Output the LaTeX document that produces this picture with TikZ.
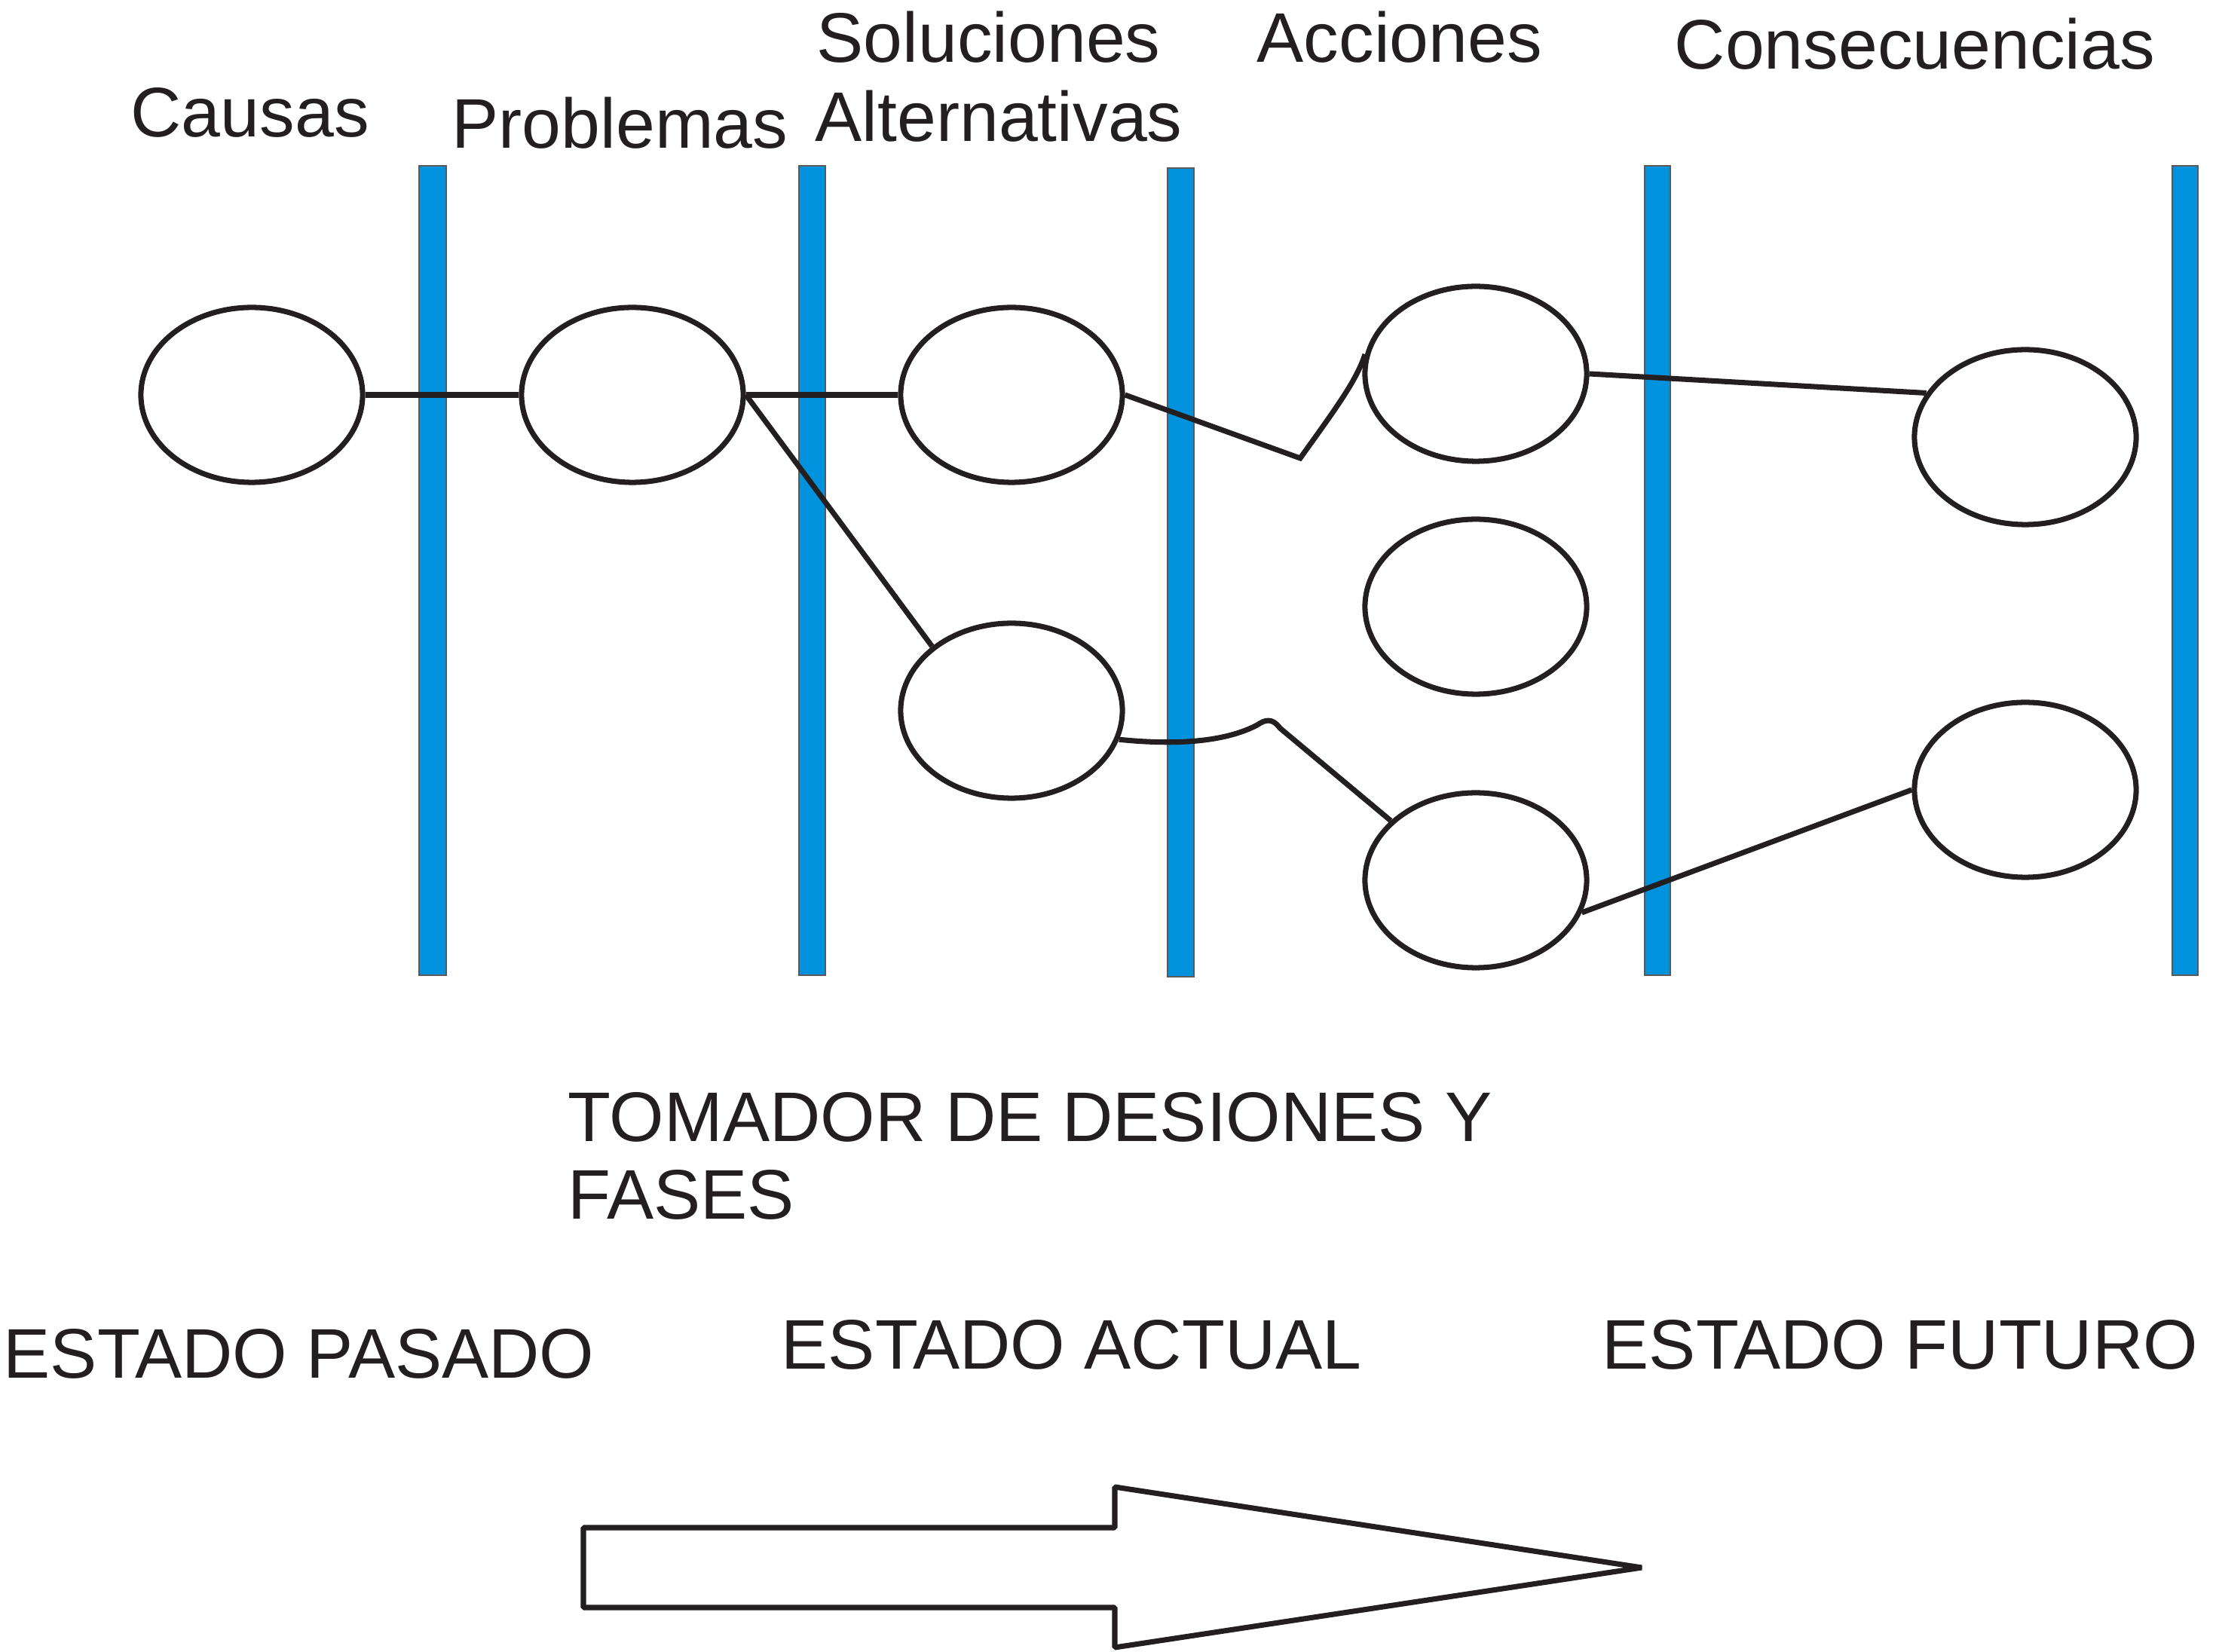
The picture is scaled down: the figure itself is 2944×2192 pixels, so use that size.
\documentclass[tikz,border=0pt]{standalone}
\usepackage{fontspec}
\setmainfont{Liberation Sans}
\usetikzlibrary{shapes.geometric}
\definecolor{barblue}{RGB}{0,146,221}
\definecolor{ink}{RGB}{35,31,32}
\tikzset{
  bar/.style={fill=barblue, draw=gray!70!black, line width=0.3pt},
  oval/.style={ellipse, draw=ink, fill=white, line width=2pt, minimum width=2.94cm, minimum height=2.32cm, inner sep=0pt},
  conn/.style={draw=ink, line width=2pt},
  lbl/.style={text=ink, inner sep=0pt, anchor=base west, font=\fontsize{26.5}{30}\selectfont},
  bigarrow/.style={draw=ink, line width=2pt, line join=bevel, fill=white}
}
\begin{document}
\begin{tikzpicture}[x=0.01cm, y=-0.01cm]
\useasboundingbox (0,0) rectangle (2944,2192);
% blue bars
\fill[bar] (556,220) rectangle (592,1294);
\fill[bar] (1060,220) rectangle (1095,1294);
\fill[bar] (1549,223) rectangle (1584,1296);
\fill[bar] (2182,220) rectangle (2216,1294);
\fill[bar] (2882,220) rectangle (2916,1294);
% ellipses
\node[oval] (e1) at (334,524) {};
\node[oval] (e2) at (839,524) {};
\node[oval] (e3) at (1342,524) {};
\node[oval] (e4) at (1342,943) {};
\node[oval] (e5) at (1958,496) {};
\node[oval] (e6) at (1958,805) {};
\node[oval] (e7) at (1958,1168) {};
\node[oval] (e8) at (2687,580) {};
\node[oval] (e9) at (2687,1048) {};
\coordinate (k1) at (1725,608);
% connectors
\draw[conn] (e1.east) -- (e2.west);
\draw[conn] (e2.east) -- (e3.west);
\draw[conn] (e2.east) -- (e4.141);
\draw[conn, line join=miter] (e3.east) -- (k1) .. controls (1770,545) and (1800,505) .. (e5.170);
\draw[conn] (e4.-15) .. controls (1570,990) and (1630,982) .. (1668,962) .. controls (1678,955) and (1688,952) .. (1698,966) -- (e7.145);
\draw[conn] (e5.east) -- (e8.156);
\draw[conn] (e7.-17) -- (e9.west);
% labels
\node[lbl] (t1) at (173,182) {Causas};
\node[lbl] (t2) at (599,197) {Problemas};
\node[lbl] (t3) at (1083,83) {Soluciones};
\node[lbl] (t3b) at (1081,188) {Alternativas};
\node[lbl] (t4) at (1667,83) {Acciones};
\node[lbl] (t5) at (2221,92) {Consecuencias};
\node[lbl] (t6) at (753,1515) {TOMADOR DE DESIONES Y};
\node[lbl] (t6b) at (753,1618) {FASES};
\node[lbl] (s1) at (4,1829) {ESTADO PASADO};
\node[lbl] (s2) at (1036,1817) {ESTADO ACTUAL};
\node[lbl] (s3) at (2125,1817) {ESTADO FUTURO};
% big arrow
\draw[bigarrow] (774,2027) -- (1479,2027) -- (1479,1973) -- (2178,2080) -- (1479,2186) -- (1479,2133) -- (774,2133) -- cycle;
\end{tikzpicture}
\end{document}
